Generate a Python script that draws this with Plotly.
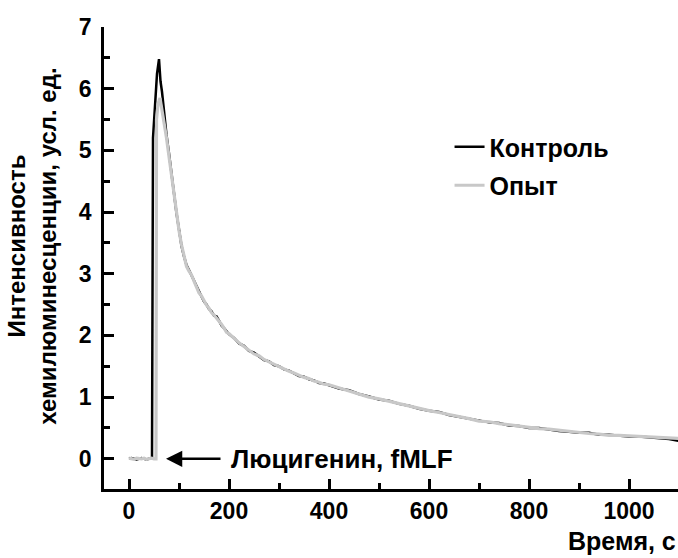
import plotly.graph_objects as go

# Time (s) and chemiluminescence intensity (arb. units)
ctrl_t = [0, 5, 10, 15, 20, 25, 30, 35, 40, 46, 48, 52, 56, 60, 63, 66, 70, 75, 80, 85,
          90, 95, 100, 105, 110, 115, 120, 125, 130, 135, 140, 145, 150, 155, 160, 165, 170, 175, 180, 185,
          190, 195, 200, 210, 220, 230, 240, 250, 260, 270, 280, 290, 300, 310, 320, 330, 340, 350, 360, 370,
          380, 390, 400, 420, 440, 460, 480, 500, 520, 540, 560, 580, 600, 620, 640, 660, 680, 700, 720, 740,
          760, 780, 800, 820, 840, 860, 880, 900, 920, 940, 960, 980, 1000, 1020, 1040, 1060, 1080, 1100]
ctrl_v = [0.0, 0.01, 0.0, -0.01, 0.0, 0.01, 0.0, -0.01, 0.0, 0.0, 5.2, 5.83, 6.24, 6.48, 6.12, 5.95, 5.62, 5.25, 4.95, 4.6,
          4.25, 3.98, 3.72, 3.45, 3.28, 3.14, 3.06, 2.97, 2.9, 2.8, 2.7, 2.63, 2.55, 2.5, 2.43, 2.39, 2.32, 2.31, 2.24, 2.16,
          2.12, 2.06, 2.02, 1.96, 1.87, 1.83, 1.75, 1.72, 1.66, 1.6, 1.58, 1.52, 1.5, 1.45, 1.43, 1.38, 1.34, 1.33, 1.29, 1.27,
          1.23, 1.22, 1.19, 1.14, 1.11, 1.05, 1.01, 0.96, 0.94, 0.89, 0.86, 0.81, 0.78, 0.76, 0.71, 0.68, 0.64, 0.62, 0.59, 0.58,
          0.54, 0.53, 0.5, 0.5, 0.47, 0.45, 0.44, 0.42, 0.42, 0.39, 0.39, 0.37, 0.36, 0.36, 0.35, 0.34, 0.32, 0.29]

exp_t = [0, 5, 10, 15, 20, 25, 30, 35, 40, 45, 50, 54, 55, 58, 62, 66, 70, 75, 80, 85,
         90, 95, 100, 105, 110, 115, 120, 125, 130, 135, 140, 145, 150, 155, 160, 165, 170, 175, 180, 185,
         190, 195, 200, 210, 220, 230, 240, 250, 260, 270, 280, 290, 300, 310, 320, 330, 340, 350, 360, 370,
         380, 390, 400, 420, 440, 460, 480, 500, 520, 540, 560, 580, 600, 620, 640, 660, 680, 700, 720, 740,
         760, 780, 800, 820, 840, 860, 880, 900, 920, 940, 960, 980, 1000, 1020, 1040, 1060, 1080, 1100]
exp_v = [0.01, 0.0, -0.01, 0.01, 0.0, 0.0, 0.01, -0.01, 0.0, 0.01, 0.0, 0.0, 5.5, 5.75, 5.85, 5.68, 5.45, 5.2, 4.9, 4.58,
         4.24, 3.95, 3.7, 3.47, 3.27, 3.12, 3.04, 2.98, 2.88, 2.79, 2.69, 2.64, 2.56, 2.49, 2.44, 2.37, 2.33, 2.28, 2.25, 2.18,
         2.12, 2.05, 2.03, 1.95, 1.88, 1.82, 1.76, 1.7, 1.67, 1.61, 1.57, 1.53, 1.49, 1.46, 1.42, 1.39, 1.35, 1.32, 1.3, 1.26,
         1.24, 1.21, 1.2, 1.15, 1.1, 1.06, 1.0, 0.97, 0.93, 0.9, 0.85, 0.82, 0.78, 0.75, 0.72, 0.68, 0.65, 0.61, 0.6, 0.57,
         0.55, 0.52, 0.51, 0.49, 0.48, 0.46, 0.44, 0.43, 0.41, 0.4, 0.38, 0.38, 0.37, 0.36, 0.36, 0.35, 0.34, 0.33]

assert len(ctrl_t) == len(ctrl_v) and len(exp_t) == len(exp_v)

series_names = ["Контроль", "Опыт"]
x_title = "Время, с"
y_title = "Интенсивность<br>хемилюминесценции, усл. ед."
arrow_label = "Люцигенин, fMLF"
arrow_tip = (74, 0)
arrow_tail_x = 186
label_x = 200

FONT = "Liberation Sans, Arial, sans-serif"

fig = go.Figure()
fig.add_trace(go.Scatter(x=ctrl_t, y=ctrl_v, mode="lines", name=series_names[0],
                         legendgroup="a", line=dict(color="#000000", width=2.5)))
fig.add_trace(go.Scatter(x=exp_t, y=exp_v, mode="lines", name=series_names[1],
                         legendgroup="b", line=dict(color="#c8c8c8", width=3.2)))

axis_common = dict(showline=True, linecolor="black", linewidth=2.5, ticks="inside",
                   tickcolor="black", tickwidth=2.5, ticklen=10, showgrid=False, zeroline=False,
                   tickfont=dict(family=FONT, size=23, color="black", weight="bold"))

fig.update_xaxes(range=[-50, 1098], dtick=200, tick0=0,
                 minor=dict(dtick=100, tick0=0, ticks="inside", ticklen=6, tickwidth=2.5, tickcolor="black"),
                 **axis_common)
fig.update_yaxes(range=[-0.49, 7.0], dtick=1, tick0=0, ticklabelstandoff=5,
                 minor=dict(dtick=0.5, tick0=0, ticks="inside", ticklen=6, tickwidth=2.5, tickcolor="black"),
                 **axis_common)

fig.add_annotation(x=arrow_tip[0], y=arrow_tip[1], ax=arrow_tail_x, ay=arrow_tip[1],
                   xref="x", yref="y", axref="x", ayref="y", text="",
                   showarrow=True, arrowhead=2, arrowsize=1.3, arrowwidth=2.5, arrowcolor="black")
fig.add_annotation(x=label_x, y=arrow_tip[1], xref="x", yref="y", text=arrow_label,
                   showarrow=False, xanchor="left", yanchor="middle",
                   font=dict(family=FONT, size=26, color="black", weight="bold"))
fig.add_annotation(x=1, y=-0.112, xref="paper", yref="paper", text=x_title,
                   showarrow=False, xanchor="right", yanchor="middle",
                   font=dict(family=FONT, size=25, color="black", weight="bold"))
fig.add_annotation(x=-0.126, y=0.526, xref="paper", yref="paper", text=y_title,
                   showarrow=False, xanchor="center", yanchor="middle", textangle=-90,
                   font=dict(family=FONT, size=24, color="black", weight="bold"))

fig.update_layout(
    width=678, height=558,
    margin=dict(l=104, r=0, t=27, b=69),
    paper_bgcolor="white", plot_bgcolor="white",
    showlegend=True,
    legend=dict(x=0.602, y=0.79, xanchor="left", yanchor="top", bgcolor="rgba(0,0,0,0)",
                tracegroupgap=3, itemwidth=30,
                font=dict(family=FONT, size=25, color="black", weight="bold")),
)

fig.write_html("out.html")
